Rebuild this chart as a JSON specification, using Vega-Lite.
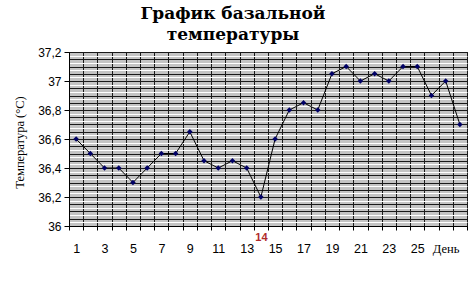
{
  "$schema": "https://vega.github.io/schema/vega-lite/v6.json",
  "width": 398,
  "height": 174,
  "autosize": "none",
  "padding": {"left": 69, "top": 52, "right": 5, "bottom": 57},
  "background": "white",
  "title": {
    "text": ["График базальной", "температуры"],
    "font": "DejaVu Serif",
    "fontSize": 17,
    "fontWeight": "bold",
    "color": "#000000",
    "lineHeight": 21,
    "anchor": "middle",
    "dx": -35,
    "offset": 2
  },
  "config": {
    "view": {"fill": "#c4c4c4", "stroke": "#000000", "strokeWidth": 1}
  },
  "data": {
    "values": [
      {"day": 1, "t": 36.6},
      {"day": 2, "t": 36.5},
      {"day": 3, "t": 36.4},
      {"day": 4, "t": 36.4},
      {"day": 5, "t": 36.3},
      {"day": 6, "t": 36.4},
      {"day": 7, "t": 36.5},
      {"day": 8, "t": 36.5},
      {"day": 9, "t": 36.65},
      {"day": 10, "t": 36.45},
      {"day": 11, "t": 36.4},
      {"day": 12, "t": 36.45},
      {"day": 13, "t": 36.4},
      {"day": 14, "t": 36.2},
      {"day": 15, "t": 36.6},
      {"day": 16, "t": 36.8},
      {"day": 17, "t": 36.85},
      {"day": 18, "t": 36.8},
      {"day": 19, "t": 37.05},
      {"day": 20, "t": 37.1},
      {"day": 21, "t": 37.0},
      {"day": 22, "t": 37.05},
      {"day": 23, "t": 37.0},
      {"day": 24, "t": 37.1},
      {"day": 25, "t": 37.1},
      {"day": 26, "t": 36.9},
      {"day": 27, "t": 37.0},
      {"day": 28, "t": 36.7}
    ]
  },
  "encoding": {
    "x": {
      "field": "day",
      "type": "ordinal",
      "scale": {"type": "band", "paddingInner": 0, "paddingOuter": 0},
      "axis": {
        "title": null,
        "tickBand": "extent",
        "grid": true,
        "gridColor": "#1a1a1a",
        "gridWidth": 1,
        "domainColor": "#000000",
        "tickColor": "#000000",
        "tickSize": 4,
        "labelAngle": 0,
        "labelBaseline": "top",
        "labelFont": {"condition": {"test": "datum.value == 27", "value": "Liberation Serif"}, "value": "Liberation Sans"},
        "labelFontSize": {"condition": {"test": "datum.value == 14", "value": 11}, "value": 12.5},
        "labelFontWeight": {"condition": {"test": "datum.value == 14", "value": "bold"}, "value": "normal"},
        "labelColor": {"condition": {"test": "datum.value == 14", "value": "#b02a2a"}, "value": "#000000"},
        "labelPadding": {"condition": {"test": "datum.value == 14", "value": 1}, "value": 12},
        "labelExpr": "datum.value == 27 ? 'День' : ((datum.value % 2 == 1 || datum.value == 14) ? datum.label : '')"
      }
    }
  },
  "layer": [
    {
      "mark": {"type": "line", "color": "#000000", "strokeWidth": 1},
      "encoding": {
        "y": {
          "field": "t",
          "type": "quantitative",
          "scale": {"domain": [36, 37.2], "nice": false, "zero": false},
          "axis": {
            "orient": "left",
            "title": null,
            "labels": false,
            "ticks": false,
            "domain": false,
            "grid": true,
            "gridColor": "#ffffff",
            "gridWidth": 1,
            "values": [36.025, 36.075, 36.125, 36.175, 36.225, 36.275, 36.325, 36.375, 36.425, 36.475, 36.525, 36.575, 36.625, 36.675, 36.725, 36.775, 36.825, 36.875, 36.925, 36.975, 37.025, 37.075, 37.125, 37.175]
          }
        }
      }
    },
    {
      "mark": {"type": "point", "shape": "diamond", "filled": true, "color": "#000066", "size": 30, "opacity": 1},
      "encoding": {
        "y": {
          "field": "t",
          "type": "quantitative",
          "scale": {"domain": [36, 37.2], "nice": false, "zero": false},
          "axis": {
            "orient": "left",
            "title": "Температура (°C)",
            "titleFont": "Liberation Serif",
            "titleFontSize": 12.5,
            "titleFontWeight": "normal",
            "titleColor": "#000000",
            "titlePadding": 11,
            "titleY": 90,
            "grid": true,
            "gridColor": "#1a1a1a",
            "gridWidth": 1,
            "domainColor": "#000000",
            "tickColor": "#000000",
            "tickSize": 5,
            "tickOpacity": {"condition": {"test": "round(datum.value * 100) % 20 != 0", "value": 0}, "value": 1},
            "labelFont": "Liberation Sans",
            "labelFontSize": 12,
            "labelColor": "#000000",
            "labelPadding": 3,
            "labelExpr": "round(datum.value * 100) % 20 == 0 ? replace(format(datum.value, '~g'), '.', ',') : ''",
            "values": [36, 36.05, 36.1, 36.15, 36.2, 36.25, 36.3, 36.35, 36.4, 36.45, 36.5, 36.55, 36.6, 36.65, 36.7, 36.75, 36.8, 36.85, 36.9, 36.95, 37, 37.05, 37.1, 37.15, 37.2]
          }
        }
      }
    }
  ],
  "resolve": {"axis": {"y": "independent"}}
}
